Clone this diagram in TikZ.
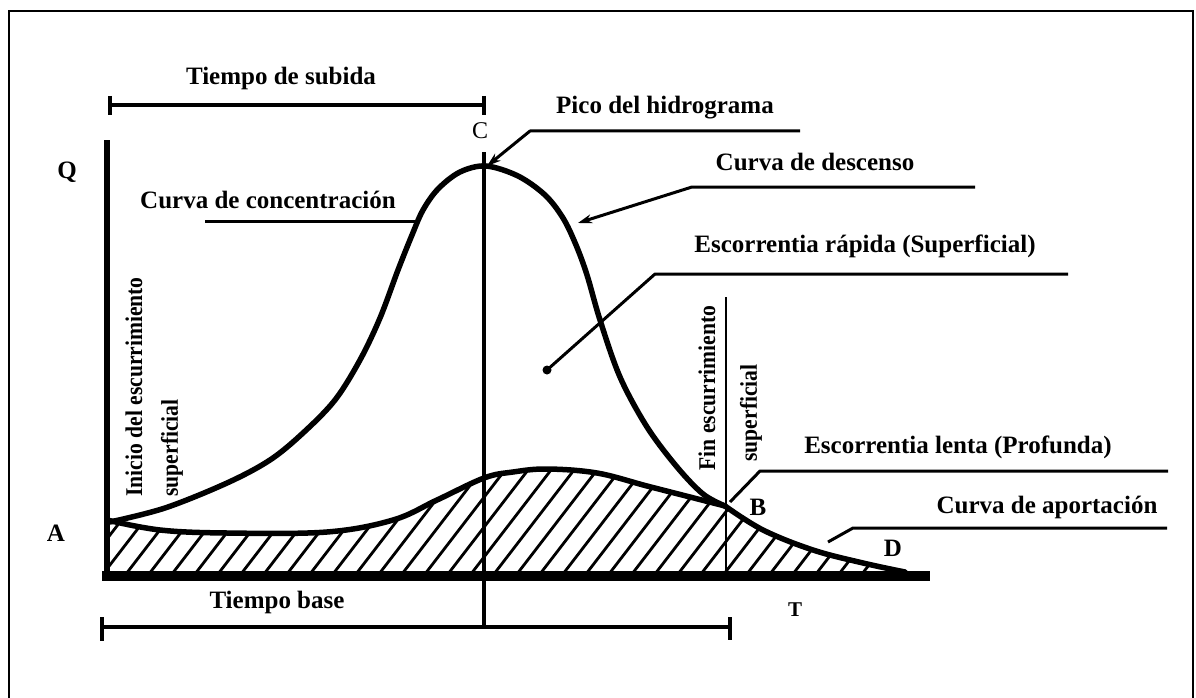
\documentclass[tikz,border=0pt]{standalone}
\usepackage{fontspec}
\setmainfont{Liberation Serif}
\usetikzlibrary{arrows.meta}
\begin{document}
\begin{tikzpicture}[x=1pt,y=-1pt,
  lbl/.style={font=\fontsize{25}{30}\selectfont\bfseries, inner sep=0pt},
  vlbl/.style={font=\fontsize{24}{28}\selectfont\bfseries, inner sep=0pt, rotate=90},
  leader/.style={line width=3pt, line join=round},
  tip/.style={-{Stealth[length=14pt,width=9pt]}},
  curve/.style={line width=5.5pt, line join=round, line cap=round},
  dimline/.style={line width=4pt},
  hatchline/.style={line width=2.8pt},
  framel/.style={line width=2pt}]
\useasboundingbox (0,0) rectangle (1196,698);
% frame
\draw[framel] (9,700) -- (9,11) -- (1193,11) -- (1193,700);

% hatched region (slow runoff)
\begin{scope}
\clip plot[smooth, tension=0.6] coordinates {(107,520) (160,530) (227,533) (327,532) (393,520) (437,500) (484,478) (513,472) (547,469) (597,473) (647,486) (690,497) (725,506)}
  -- plot[smooth, tension=0.6] coordinates {(725,506) (763,530) (813,550) (863,563) (905,572)}
  -- (905,580) -- (107,580) -- cycle;
\foreach \i in {0,...,44} \draw[hatchline] (60+\i*23,600) -- ++(120,-156);
\end{scope}

% axes
\coordinate (qtop) at (107,140);
\coordinate (qbot) at (107,581);
\coordinate (tl) at (102,576);
\coordinate (tr) at (930,576);
\draw[line width=5.5pt] (qtop) -- (qbot);
\draw[line width=10pt] (tl) -- (tr);

% peak line C and end of surface runoff line
\coordinate (ctop) at (484,152);
\coordinate (cbot) at (484,628);
\draw[line width=3.2pt] (ctop) -- (cbot);
\coordinate (ftop) at (726,297);
\coordinate (fbot) at (726,576);
\draw[line width=1.8pt] (ftop) -- (fbot);

% base flow curve A -> B
\draw[curve] plot[smooth, tension=0.6] coordinates {(107,520) (160,530) (227,533) (327,532) (393,520) (437,500) (484,478) (513,472) (547,469) (597,473) (647,486) (690,497) (725,506)};
% hydrograph
\draw[curve] plot[smooth, tension=0.55] coordinates {(110,522) (165,508) (227,483) (270,460) (303,433) (335,400) (360,360) (380,318) (398,270) (412,235) (423,210) (438,189) (460,172) (486,166) (518,176) (545,195) (563,218) (576,245) (587,275) (600,320) (620,377) (647,427) (677,467) (703,494) (725,506)};
\draw[curve] plot[smooth, tension=0.6] coordinates {(725,506) (763,530) (813,550) (863,563) (905,572)};

% dimension lines
\coordinate (sl) at (110,105);
\coordinate (sr) at (484,105);
\draw[dimline] (sl) -- (sr);
\draw[dimline] (110,96) -- (110,115);
\draw[dimline] (484,96) -- (484,115);
\coordinate (bl) at (102,627);
\coordinate (br) at (730,627);
\draw[dimline] (bl) -- (br);
\draw[dimline] (102,617) -- (102,641);
\draw[dimline] (730,617) -- (730,640);

% labels
\node[lbl] (subida) at (281,78) {Tiempo de subida};
\node[font=\fontsize{24}{28}\selectfont, inner sep=0pt] (C) at (480,131) {C};
\node[lbl] (Q) at (67,172) {Q};
\node[lbl] (conc) at (268,200) {Curva de concentración};
\node[lbl] (pico) at (665,108) {Pico del hidrograma};
\node[lbl] (desc) at (815,162) {Curva de descenso};
\node[lbl] (rapida) at (865,246) {Escorrentia rápida (Superficial)};
\node[lbl] (lenta) at (958,447) {Escorrentia lenta (Profunda)};
\node[lbl] (aport) at (1047,507) {Curva de aportación};
\node[lbl] (B) at (758,507) {B};
\node[lbl] (D) at (893,548) {D};
\node[lbl] (A) at (56,533) {A};
\node[lbl, font=\fontsize{21}{25}\selectfont\bfseries] (T) at (795,610) {T};
\node[lbl] (base) at (277,602) {Tiempo base};
\node[vlbl] (ini1) at (134,387) {\scalebox{0.9}[1]{Inicio del escurrimiento}};
\node[vlbl] (ini2) at (172,448) {\scalebox{0.9}[1]{superficial}};
\node[vlbl] (fin1) at (707,388) {\scalebox{0.9}[1]{Fin escurrimiento}};
\node[vlbl] (fin2) at (751,413) {\scalebox{0.9}[1]{superficial}};

% leader lines
\coordinate (concL) at (205,221);
\coordinate (concR) at (420,221);
\draw[leader] (concL) -- (concR);

\coordinate (picoR) at (800,131);
\coordinate (picoK) at (530,131);
\coordinate (picoT) at (487,166);
\draw[leader, tip] (picoR) -- (picoK) -- (picoT);

\coordinate (descR) at (975,187);
\coordinate (descK) at (692,187);
\coordinate (descT) at (578,223);
\draw[leader, tip] (descR) -- (descK) -- (descT);

\coordinate (rapR) at (1068,274);
\coordinate (rapK) at (655,274);
\coordinate (rapT) at (547,370);
\draw[leader] (rapR) -- (rapK) -- (rapT);
\fill (rapT) circle (4.5);

\coordinate (lenR) at (1168,471);
\coordinate (lenK) at (760,471);
\coordinate (lenT) at (730,502);
\draw[leader] (lenR) -- (lenK) -- (lenT);

\coordinate (apR) at (1167,528);
\coordinate (apK) at (853,528);
\coordinate (apT) at (828,542);
\draw[leader] (apR) -- (apK) -- (apT);
\end{tikzpicture}
\end{document}
